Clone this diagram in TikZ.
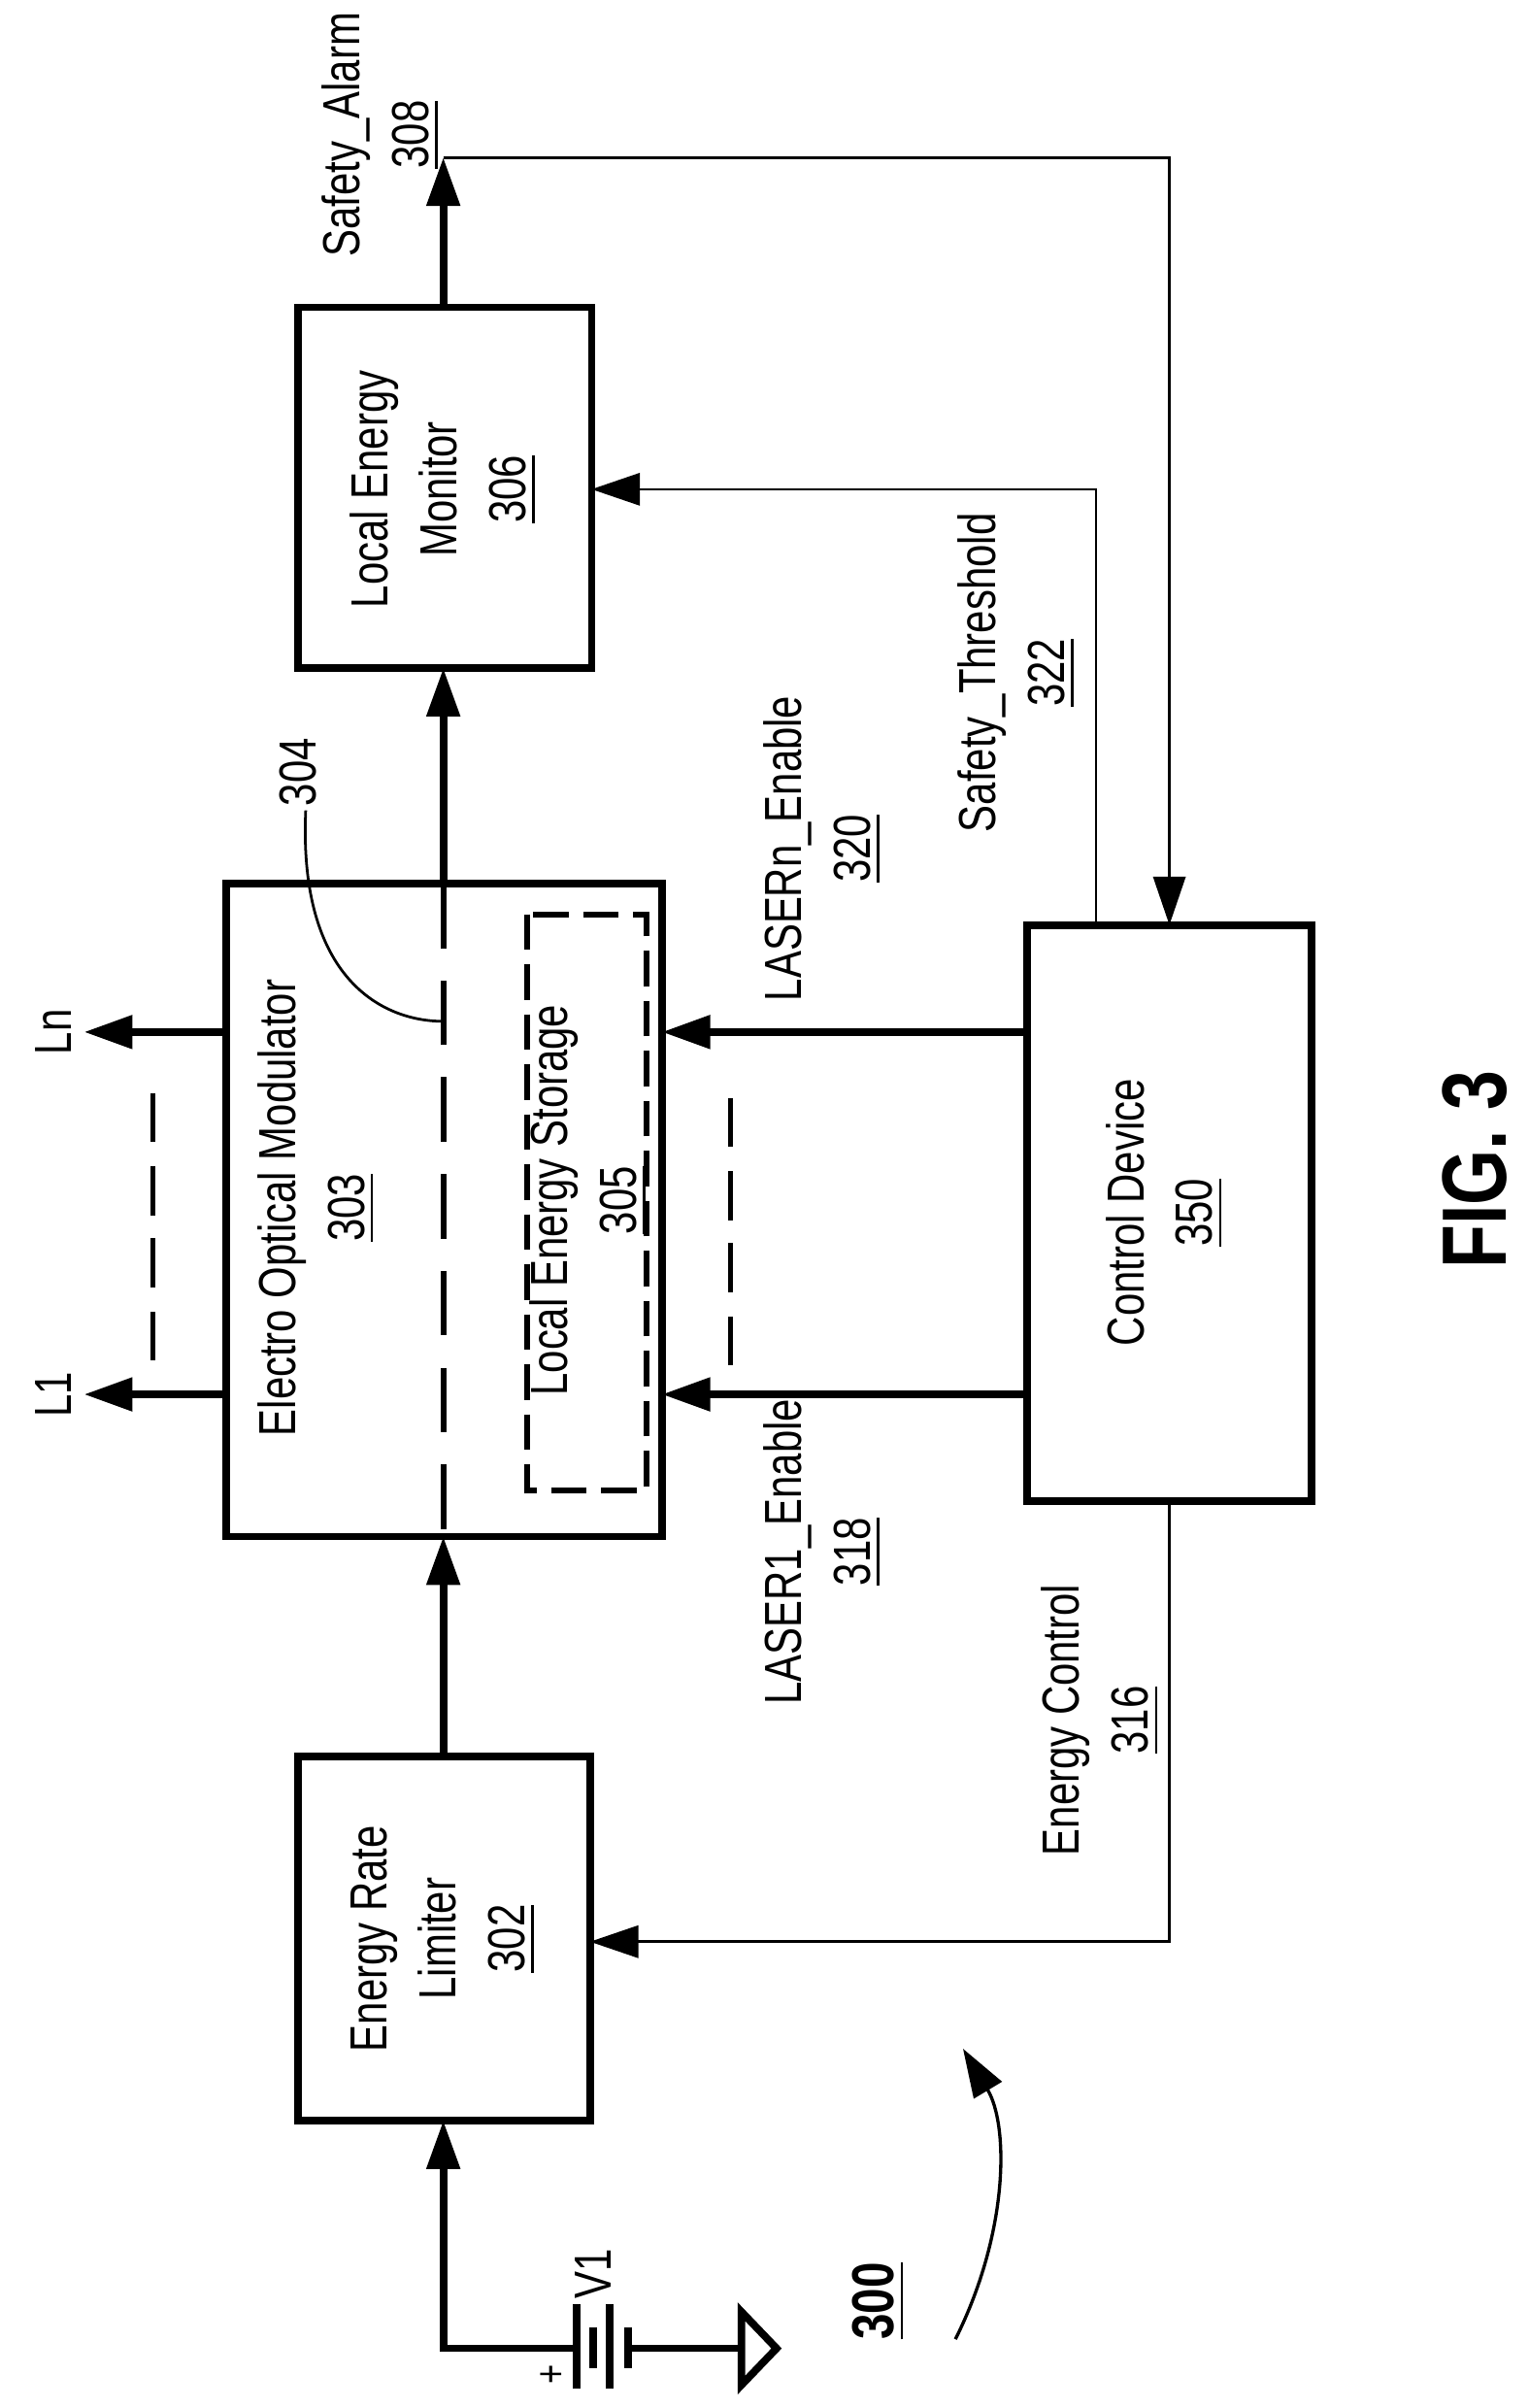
\documentclass[tikz,border=0pt]{standalone}
\usepackage{fontspec}
\setmainfont{Liberation Sans}[FakeStretch=0.78]
\usetikzlibrary{arrows.meta}
\begin{document}
\begin{tikzpicture}[x=0.01cm,y=-0.01cm,
  box/.style={draw,line width=1.4pt},
  lbl/.style={rotate=90,align=center,font=\fontsize{9.7}{12.8}\selectfont,inner sep=0pt},
  thick1/.style={line width=1.4pt,-{Triangle[length=9pt,width=6pt]}},
  thin1/.style={line width=0.5pt,-{Triangle[length=9pt,width=6pt]}}]
\useasboundingbox (0,0) rectangle (1000,1575);
% boxes
\draw[box] (195,201) rectangle (387,437);
\draw[box] (148,578) rectangle (433,1005);
\draw[box] (195,1149) rectangle (386,1387);
\draw[box] (672,605) rectangle (858,982);
\draw[line width=1.1pt,dash pattern=on 6.6pt off 2.7pt] (345,598) rectangle (423,975);
\draw[line width=1.1pt,dash pattern=on 12pt off 6pt] (290,578) -- (290,1005);
% labels in boxes
\node[lbl] (lem) at (290,320) {Local Energy\\Monitor\\\underline{306}};
\node[lbl] (eom) at (207,790) {Electro Optical Modulator\\\underline{303}};
\node[lbl] (les) at (385,785) {Local Energy Storage\\\underline{305}};
\node[lbl] (erl) at (290,1268) {Energy Rate\\Limiter\\\underline{302}};
\node[lbl] (cd) at (762,793) {Control Device\\\underline{350}};
% main arrows
\coordinate (a1) at (290,1149); \coordinate (a2) at (290,1005);
\draw[thick1] (a1) -- (a2);
\coordinate (b1) at (290,578); \coordinate (b2) at (290,437);
\draw[thick1] (b1) -- (b2);
\coordinate (c1) at (290,201); \coordinate (c2) at (290,103);
\draw[thick1] (c1) -- (c2);
\coordinate (c3) at (765,103); \coordinate (c4) at (765,605);
\draw[thin1] (c2) -- (c3) -- (c4);
\coordinate (t1) at (717,605); \coordinate (t2) at (717,320); \coordinate (t3) at (387,320);
\draw[thin1] (t1) -- (t2) -- (t3);
\coordinate (e1) at (765,982); \coordinate (e2) at (765,1270); \coordinate (e3) at (386,1270);
\draw[thin1] (e1) -- (e2) -- (e3);
\coordinate (n1) at (672,675); \coordinate (n2) at (433,675);
\draw[thick1] (n1) -- (n2);
\coordinate (m1) at (672,912); \coordinate (m2) at (433,912);
\draw[thick1] (m1) -- (m2);
\coordinate (l1a) at (148,912); \coordinate (l1b) at (55,912);
\draw[thick1] (l1a) -- (l1b);
\coordinate (lna) at (148,675); \coordinate (lnb) at (55,675);
\draw[thick1] (lna) -- (lnb);
\node[lbl] (L1) at (35,912) {L1};
\node[lbl] (Ln) at (35,675) {Ln};
\foreach \s in {715,763,810,858}{
  \draw[line width=0.9pt] (100,\s) -- (100,\s+32);
  \draw[line width=0.9pt] (478,\s+3) -- (478,\s+35);
}
% signal labels
\node[lbl] (sa) at (249,88) {Safety\_Alarm\\\underline{308}};
\node[lbl] (ln) at (538,555) {LASERn\_Enable\\\underline{320}};
\node[lbl] (st) at (665,440) {Safety\_Threshold\\\underline{322}};
\node[lbl] (l1e) at (538,1015) {LASER1\_Enable\\\underline{318}};
\node[lbl] (ec) at (720,1125) {Energy Control\\\underline{316}};
% 304
\node[lbl] (n304) at (195,505) {304};
\draw[line width=0.5pt] (200,530) .. controls (195,640) and (250,668) .. (290,668);
% battery
\coordinate (v0) at (290,1387); \coordinate (v1) at (290,1536); \coordinate (v2) at (377,1536);
\draw[line width=1.4pt] (v2) -- (v1) -- (290,1420);
\draw[thick1] (v1) -- (v0);
\draw[line width=1.4pt] (377,1507) -- (377,1562);
\draw[line width=1.4pt] (388,1522) -- (388,1549);
\draw[line width=1.4pt] (399,1507) -- (399,1562);
\draw[line width=1.4pt] (411,1522) -- (411,1549);
\coordinate (g0) at (411,1536); \coordinate (g1) at (485,1536);
\draw[line width=1.4pt] (g0) -- (g1);
\draw[line width=1.4pt] (485,1512) -- (508,1536) -- (485,1560) -- cycle;
\node[lbl,font=\fontsize{8}{9}\selectfont] (plus) at (362,1553) {+};
\node[lbl] (V1) at (388,1487) {V1};
% 300
\node[lbl,font=\bfseries\fontsize{11}{13}\selectfont] (n300) at (575,1505) {\underline{300}};
\draw[line width=0.6pt,-{Triangle[length=9pt,width=6pt]}] (625,1530) .. controls (660,1460) and (660,1390) .. (630,1340);
% FIG
\node[lbl,font=\bfseries\fontsize{17}{20}\selectfont] (fig) at (965,765) {FIG. 3};
\end{tikzpicture}
\end{document}
